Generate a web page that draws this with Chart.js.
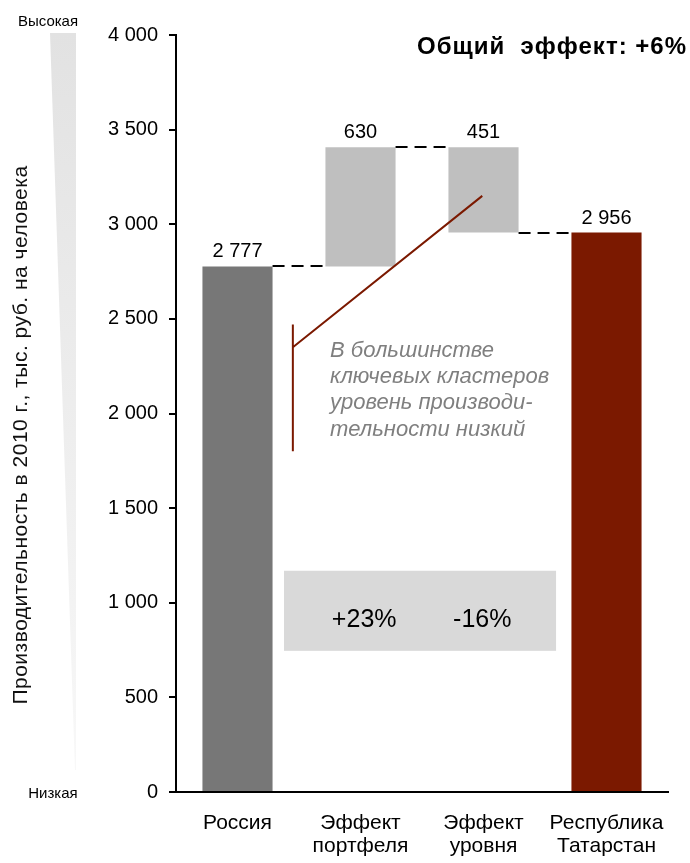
<!DOCTYPE html>
<html>
<head>
<meta charset="utf-8">
<script src="https://cdn.jsdelivr.net/npm/chart.js@4"></script>
<style>
  html, body { margin: 0; padding: 0; background: #fff; }
  #wrap { width: 690px; height: 863px; }
</style>
</head>
<body>
<div id="wrap"><canvas id="chart" width="690" height="863"></canvas></div>
<script>
// Категории (подписи оси X)
const categories = [['Россия'], ['Эффект', 'портфеля'], ['Эффект', 'уровня'], ['Республика', 'Татарстан']];
// Производительность, тыс. руб. на человека
const russiaValue = 2777;
const portfolioEffect = 630;
const levelEffect = -451;
const tatarstanValue = 2956;
// Доли эффектов
const effectShares = ['+23%', '-16%'];
const yTicks = [0, 500, 1000, 1500, 2000, 2500, 3000, 3500, 4000];

const FONT = '"Liberation Sans", Arial, sans-serif';
const colors = ['#777777', '#bfbfbf', '#bfbfbf', '#7b1900'];

// Плавающие столбцы водопада
const afterPortfolio = russiaValue + portfolioEffect;
const bars = [
  [0, russiaValue],
  [russiaValue, afterPortfolio],
  [afterPortfolio + levelEffect, afterPortfolio],
  [0, tatarstanValue]
];
const barLabels = [russiaValue, portfolioEffect, Math.abs(levelEffect), tatarstanValue];

function fmt(n) {
  return String(n).replace(/\B(?=(\d{3})+(?!\d))/g, ' ');
}

// Оформление: клин "Высокая/Низкая", плашка с долями, подписи, связки
const decorPlugin = {
  id: 'decor',
  beforeDatasetsDraw(chart) {
    const ctx = chart.ctx;
    const x = chart.scales.x, y = chart.scales.y;
    ctx.save();
    // клин слева
    const g = ctx.createLinearGradient(0, 33, 0, 770);
    g.addColorStop(0, '#e2e2e2');
    g.addColorStop(1, '#f8f8f8');
    ctx.fillStyle = g;
    ctx.beginPath();
    ctx.moveTo(50, 33);
    ctx.lineTo(76, 33);
    ctx.lineTo(76, 770);
    ctx.lineTo(75, 770);
    ctx.closePath();
    ctx.fill();
    ctx.fillStyle = '#000';
    ctx.font = '15px ' + FONT;
    ctx.textAlign = 'center';
    ctx.textBaseline = 'middle';
    ctx.fillText('Высокая', 48, 22);
    ctx.fillText('Низкая', 53, 794);

    // заголовок оси Y
    ctx.save();
    ctx.translate(21, 435);
    ctx.rotate(-Math.PI / 2);
    ctx.font = '21px ' + FONT;
    ctx.letterSpacing = '0.5px';
    ctx.fillStyle = '#111';
    ctx.fillText('Производительность в 2010 г., тыс. руб. на человека', 0, 0);
    ctx.restore();

    // серая плашка с долями эффектов
    const bx0 = x.getPixelForValue(0.378), bx1 = x.getPixelForValue(2.59);
    const by0 = y.getPixelForValue(1169), by1 = y.getPixelForValue(746);
    ctx.fillStyle = '#d9d9d9';
    ctx.fillRect(bx0, by0, bx1 - bx0, by1 - by0);
    ctx.fillStyle = '#000';
    ctx.font = '25px ' + FONT;
    ctx.fillText(effectShares[0], x.getPixelForValue(1.03), y.getPixelForValue(910));
    ctx.fillText(effectShares[1], x.getPixelForValue(1.99), y.getPixelForValue(910));

    // общий эффект
    ctx.font = 'bold 24px ' + FONT;
    ctx.letterSpacing = '1px';
    ctx.textAlign = 'right';
    ctx.fillText('Общий  эффект: +6%', 687, 47);
    ctx.restore();
  },
  afterDatasetsDraw(chart) {
    const ctx = chart.ctx;
    const x = chart.scales.x, y = chart.scales.y;
    const meta = chart.getDatasetMeta(0);
    ctx.save();

    // пунктирные связки между столбцами
    const levels = [russiaValue, afterPortfolio, tatarstanValue];
    ctx.strokeStyle = '#000';
    ctx.lineWidth = 2;
    ctx.setLineDash([12, 7]);
    for (let i = 0; i < 3; i++) {
      const a = meta.data[i], b = meta.data[i + 1];
      const py = Math.round(y.getPixelForValue(levels[i]));
      ctx.beginPath();
      ctx.moveTo(a.x + a.width / 2, py);
      ctx.lineTo(b.x - b.width / 2, py);
      ctx.stroke();
    }
    ctx.setLineDash([]);

    // подписи значений над столбцами
    ctx.fillStyle = '#000';
    ctx.font = '20px ' + FONT;
    ctx.textAlign = 'center';
    ctx.textBaseline = 'alphabetic';
    meta.data.forEach((bar, i) => {
      const top = Math.min(bar.y, bar.base);
      ctx.fillText(fmt(barLabels[i]), bar.x, top - 9);
    });

    // выноска с комментарием
    ctx.strokeStyle = '#7b1900';
    ctx.lineWidth = 2;
    ctx.beginPath();
    ctx.moveTo(x.getPixelForValue(1.99), y.getPixelForValue(3150));
    ctx.lineTo(x.getPixelForValue(0.45), y.getPixelForValue(2350));
    ctx.moveTo(x.getPixelForValue(0.45), y.getPixelForValue(2470));
    ctx.lineTo(x.getPixelForValue(0.45), y.getPixelForValue(1800));
    ctx.stroke();

    ctx.fillStyle = '#7f7f7f';
    ctx.font = 'italic 22px ' + FONT;
    ctx.textAlign = 'left';
    ctx.textBaseline = 'middle';
    const note = ['В большинстве', 'ключевых кластеров', 'уровень производи-', 'тельности низкий'];
    const nx = x.getPixelForValue(0.752);
    const ny = y.getPixelForValue(2333);
    note.forEach((line, i) => ctx.fillText(line, nx, ny + i * 26.3));
    ctx.restore();
  }
};

new Chart(document.getElementById('chart'), {
  type: 'bar',
  data: {
    labels: categories,
    datasets: [{
      data: bars,
      backgroundColor: colors,
      borderWidth: 0,
      barPercentage: 0.57,
      categoryPercentage: 1
    }]
  },
  options: {
    responsive: false,
    animation: false,
    events: [],
    layout: { padding: { top: 35, right: 22, bottom: 0, left: 0 } },
    plugins: { legend: { display: false }, tooltip: { enabled: false } },
    scales: {
      x: {
        grid: { display: false, drawTicks: false },
        border: { display: true, color: '#000', width: 2 },
        ticks: { color: '#000', font: { family: FONT, size: 21, lineHeight: 1.1 }, padding: 20, maxRotation: 0, autoSkip: false },
        afterFit(scale) { scale.height = 71; }
      },
      y: {
        min: 0,
        max: 4000,
        afterBuildTicks(scale) { scale.ticks = yTicks.map(v => ({ value: v })); },
        grid: { drawOnChartArea: false, tickLength: 7, color: '#000', lineWidth: 2 },
        border: { color: '#000', width: 2 },
        ticks: { color: '#000', font: { family: FONT, size: 20 }, padding: 11, callback: v => fmt(v) },
        afterFit(scale) { scale.width = 176; }
      }
    }
  },
  plugins: [decorPlugin]
});
</script>
</body>
</html>
